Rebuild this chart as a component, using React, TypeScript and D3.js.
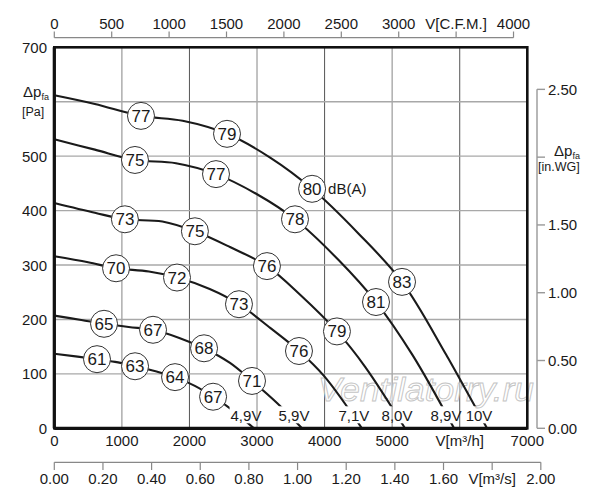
import React from 'react';
import * as d3 from 'd3';

// fan curves, V in m3/h, dp in Pa
type Pt = [number, number];

const curve10V: Pt[] = [
  [0, 612], [600, 596], [1283, 574], [1900, 565], [2556, 541], [3200, 497], [3815, 440],
  [4500, 358], [5146, 269], [5800, 135], [6404, 0],
];
const curve89V: Pt[] = [
  [0, 531], [600, 512], [1194, 493], [1800, 487], [2393, 467], [3000, 430], [3562, 384],
  [4200, 310], [4761, 232], [5300, 135], [5916, 0],
];
const curve80V: Pt[] = [
  [0, 414], [600, 396], [1045, 384], [1600, 380], [2081, 362], [2600, 333], [3147, 298],
  [3650, 244], [4183, 178], [4600, 113], [5190, 0],
];
const curve71V: Pt[] = [
  [0, 316], [500, 305], [914, 294], [1400, 288], [1816, 277], [2300, 256], [2733, 228],
  [3200, 184], [3621, 142], [4000, 95], [4553, 0],
];
const curve59V: Pt[] = [
  [0, 207], [400, 199], [736, 192], [1100, 186], [1461, 181], [1850, 166], [2216, 147],
  [2600, 120], [2926, 87], [3300, 46], [3666, 0],
];
const curve49V: Pt[] = [
  [0, 137], [632, 127], [900, 122], [1195, 114], [1500, 105], [1787, 94], [2080, 78],
  [2350, 58], [2650, 32], [2955, 0],
];

const curves = [curve10V, curve89V, curve80V, curve71V, curve59V, curve49V];
const voltages = ['10V', '8,9V', '8,0V', '7,1V', '5,9V', '4,9V'];

// noise level markers [V, dp, dB(A)]
const noise10V: [number, number, number][] = [[1283, 574, 77], [2556, 541, 79], [3815, 440, 80], [5146, 269, 83]];
const noise89V: [number, number, number][] = [[1194, 493, 75], [2393, 467, 77], [3562, 384, 78], [4761, 232, 81]];
const noise80V: [number, number, number][] = [[1045, 384, 73], [2081, 362, 75], [3147, 298, 76], [4183, 178, 79]];
const noise71V: [number, number, number][] = [[914, 294, 70], [1816, 277, 72], [2733, 228, 73], [3621, 142, 76]];
const noise59V: [number, number, number][] = [[736, 192, 65], [1461, 181, 67], [2216, 147, 68], [2926, 87, 71]];
const noise49V: [number, number, number][] = [[632, 127, 61], [1195, 114, 63], [1787, 94, 64], [2350, 58, 67]];
const noise = [...noise10V, ...noise89V, ...noise80V, ...noise71V, ...noise59V, ...noise49V];

const flowTicks = [0, 1000, 2000, 3000, 4000, 5000, 6000, 7000];
const flowLabels = ['0', '1000', '2000', '3000', '4000', '5000', 'V[m³/h]', '7000'];
const pressTicks = [0, 100, 200, 300, 400, 500, 600, 700];
const cfmTicks = [0, 500, 1000, 1500, 2000, 2500, 3000, 3500, 4000];
const cfmLabels = ['0', '500', '1000', '1500', '2000', '2500', '3000', 'V[C.F.M.]', '4000'];
const m3sTicks = [0, 0.2, 0.4, 0.6, 0.8, 1.0, 1.2, 1.4, 1.6, 1.8, 2.0];
const m3sLabels = ['0.00', '0.20', '0.40', '0.60', '0.80', '1.00', '1.20', '1.40', '1.60', 'V[m³/s]', '2.00'];
const wgTicks = [0, 0.5, 1.0, 1.5, 2.0, 2.5];
const wgLabels = ['0.00', '0.50', '1.00', '1.50', '', '2.50'];

const CFM = 1.699;
const INWG = 249.09;

const font = 'Liberation Sans, Arial, sans-serif';
const ink = '#1a1a1a';

export default function App() {
  const x = d3.scaleLinear().domain([0, 7000]).range([54.3, 527.3]);
  const y = d3.scaleLinear().domain([0, 700]).range([428.3, 47.3]);
  const line = d3.line<Pt>().x(d => x(d[0])).y(d => y(d[1])).curve(d3.curveCatmullRom.alpha(0.5));

  const [x0, x1] = x.range();
  const [y0, y1] = y.range();

  // voltage labels sit just above the axis at the end of each curve
  const vLabels = curves.map((c, i) => {
    const end = c[c.length - 1];
    const w = voltages[i].length * 8.2;
    return { cx: x(end[0]) - 8, w, text: voltages[i] };
  });

  return (
    <svg width={600} height={500} style={{ position: 'absolute', left: 0, top: 0, background: '#fff' }} fontFamily={font}>
      <defs>
        <mask id="cut" maskUnits="userSpaceOnUse" x={0} y={0} width={600} height={500}>
          <rect x={0} y={0} width={600} height={500} fill="#fff" />
          {vLabels.map((l, i) => (
            <rect key={i} x={l.cx - l.w / 2} y={y0 - 22} width={l.w} height={17} fill="#000" />
          ))}
        </mask>
      </defs>

      {/* grid */}
      {flowTicks.slice(1, -1).map(t => (
        <line key={'gx' + t} x1={x(t)} x2={x(t)} y1={y1} y2={y0}
          stroke={t % 2000 === 0 ? '#555' : '#a8a8a8'} strokeWidth={t % 2000 === 0 ? 1 : 1.4} />
      ))}
      {pressTicks.slice(1, -1).map(t => (
        <line key={'gy' + t} x1={x0} x2={x1} y1={y(t)} y2={y(t)} stroke="#a8a8a8" strokeWidth={1.4} />
      ))}

      {/* watermark */}
      <text x={318} y={401} fontSize={34} fontStyle="italic" fill="#fff" fillOpacity={0.5}
        stroke="#c4c4c4" strokeWidth={0.9} textLength={216} lengthAdjust="spacingAndGlyphs">Ventilatorry.ru</text>

      {/* curves */}
      <g mask="url(#cut)">
        {curves.map((c, i) => (
          <path key={i} d={line(c) || ''} fill="none" stroke={ink} strokeWidth={2.1} />
        ))}
      </g>

      {vLabels.map((l, i) => (
        <text key={i} x={l.cx} y={y0 - 7} fontSize={15} textAnchor="middle" fill={ink}>{l.text}</text>
      ))}

      {/* noise circles */}
      {noise.map((n, i) => (
        <g key={i} transform={`translate(${x(n[0])},${y(n[1])})`}>
          <circle r={13.5} fill="#fff" stroke="#333" strokeWidth={1} />
          <text y={6} fontSize={17} textAnchor="middle" fill={ink}>{n[2]}</text>
        </g>
      ))}
      <text x={x(noise10V[2][0]) + 16} y={y(noise10V[2][1]) + 5.5} fontSize={15} fill={ink}>dB(A)</text>

      {/* frame */}
      <rect x={x0} y={y1} width={x1 - x0} height={y0 - y1} fill="none" stroke="#111" strokeWidth={2.6} />
      <line x1={x0} x2={x0} y1={y1} y2={y0} stroke="#111" strokeWidth={3.2} />
      <line x1={x0} x2={x1} y1={y0} y2={y0} stroke="#111" strokeWidth={3.2} />

      {/* left axis Pa */}
      {pressTicks.map(t => t === 600 ? null : (
        <text key={'ly' + t} x={47} y={y(t) + 5.5} fontSize={15} textAnchor="end" fill={ink}>{t}</text>
      ))}
      <text x={23} y={97} fontSize={15} fill={ink}>Δp<tspan fontSize={9} dy={3}>fa</tspan></text>
      <text x={22} y={116} fontSize={12.5} fill={ink}>[Pa]</text>

      {/* bottom axis m3/h */}
      {flowTicks.map((t, i) => (
        <text key={'bx' + t} x={x(t)} y={446} fontSize={15} textAnchor="middle" fill={ink}>{flowLabels[i]}</text>
      ))}

      {/* top axis CFM */}
      <line x1={x(0)} x2={x(4000 * CFM)} y1={37.7} y2={37.7} stroke="#888" strokeWidth={1.2} />
      {cfmTicks.map((t, i) => (
        <g key={'cf' + t}>
          <line x1={x(t * CFM)} x2={x(t * CFM)} y1={37.7} y2={31.5} stroke="#888" strokeWidth={1.2} />
          <text x={x(t * CFM)} y={28.5} fontSize={15} textAnchor="middle" fill={ink}>{cfmLabels[i]}</text>
        </g>
      ))}

      {/* bottom axis m3/s */}
      <line x1={x(0)} x2={x(2 * 3600)} y1={462.3} y2={462.3} stroke="#888" strokeWidth={1.2} />
      {m3sTicks.map((t, i) => (
        <g key={'ms' + t}>
          <line x1={x(t * 3600)} x2={x(t * 3600)} y1={462.3} y2={470} stroke="#888" strokeWidth={1.2} />
          <text x={x(t * 3600)} y={484} fontSize={15} textAnchor="middle" fill={ink}>{m3sLabels[i]}</text>
        </g>
      ))}

      {/* right axis in.WG */}
      <line x1={537} x2={537} y1={y(2.5 * INWG)} y2={y0} stroke="#999" strokeWidth={1.4} />
      {wgTicks.map((t, i) => (
        <g key={'wg' + t}>
          <line x1={537} x2={545} y1={y(t * INWG)} y2={y(t * INWG)} stroke="#999" strokeWidth={1.4} />
          <text x={548} y={y(t * INWG) + 5.5} fontSize={15} fill={ink}>{wgLabels[i]}</text>
        </g>
      ))}
      <text x={554} y={156} fontSize={15} fill={ink}>Δp<tspan fontSize={9} dy={3}>fa</tspan></text>
      <text x={538} y={171} fontSize={12.5} fill={ink}>[in.WG]</text>
    </svg>
  );
}
